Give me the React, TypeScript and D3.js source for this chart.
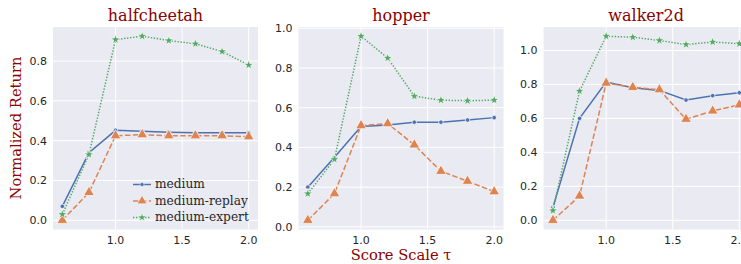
import React, { useEffect, useRef } from "react";
import * as d3 from "d3";

const scales = [0.6, 0.8, 1.0, 1.2, 1.4, 1.6, 1.8, 2.0];
const seriesNames = ["medium", "medium-replay", "medium-expert"];
const envs = ["halfcheetah", "hopper", "walker2d"];

const halfcheetahMedium = [0.07, 0.34, 0.452, 0.447, 0.443, 0.44, 0.44, 0.44];
const halfcheetahReplay = [0.0, 0.14, 0.425, 0.43, 0.425, 0.425, 0.425, 0.42];
const halfcheetahExpert = [0.03, 0.33, 0.908, 0.925, 0.903, 0.887, 0.848, 0.78];

const hopperMedium = [0.2, 0.35, 0.505, 0.513, 0.527, 0.527, 0.538, 0.55];
const hopperReplay = [0.033, 0.167, 0.51, 0.52, 0.413, 0.28, 0.23, 0.177];
const hopperExpert = [0.167, 0.34, 0.96, 0.85, 0.658, 0.638, 0.635, 0.638];

const walkerMedium = [0.076, 0.6, 0.814, 0.78, 0.765, 0.708, 0.734, 0.751];
const walkerReplay = [0.0, 0.143, 0.808, 0.783, 0.769, 0.595, 0.644, 0.68];
const walkerExpert = [0.057, 0.761, 1.084, 1.078, 1.059, 1.035, 1.05, 1.04];

const envData = [
  [halfcheetahMedium, halfcheetahReplay, halfcheetahExpert],
  [hopperMedium, hopperReplay, hopperExpert],
  [walkerMedium, walkerReplay, walkerExpert],
];
const yTicksPerEnv = [
  [0, 0.2, 0.4, 0.6, 0.8],
  [0, 0.2, 0.4, 0.6, 0.8, 1.0],
  [0, 0.2, 0.4, 0.6, 0.8, 1.0],
];
const xTicks = [1.0, 1.5, 2.0];

const colors = ["#4C72B0", "#DD8452", "#55A868"];
const dashes = [null, "5.5,2.4", "1.4,1.6"];
const symbols = [d3.symbolCircle, d3.symbolTriangle, d3.symbolStar];
const symbolSizes = [16, 50, 30];

const App = () => {
  const svgRef = useRef<SVGSVGElement>(null);

  useEffect(() => {
    const width = 741, height = 264;
    const top = 27, bottom = 229.5;
    const panelLefts = [53, 298.5, 543.6];
    const panelW = 205;
    const serif = "'DejaVu Serif', serif";
    const sans = "'DejaVu Sans', sans-serif";
    const titleColor = "#8B0000";

    const svg = d3.select(svgRef.current)
      .attr("width", width)
      .attr("height", height);
    svg.selectAll("*").remove();

    envs.forEach((env, k) => {
      const series = envData[k];
      const all = series.flat();
      const lo = d3.min(all)!, hi = d3.max(all)!;
      const pad = (hi - lo) * 0.05;
      const x0 = panelLefts[k];

      const x = d3.scaleLinear()
        .domain([0.53, 2.07])
        .range([x0, x0 + panelW]);
      const y = d3.scaleLinear()
        .domain([lo - pad, hi + pad])
        .range([bottom, top]);

      const g = svg.append("g");

      g.append("rect")
        .attr("x", x0).attr("y", top)
        .attr("width", panelW).attr("height", bottom - top)
        .attr("fill", "#EAEAF2");

      g.selectAll(".gy")
        .data(yTicksPerEnv[k])
        .enter().append("line")
        .attr("x1", x0).attr("x2", x0 + panelW)
        .attr("y1", d => y(d)).attr("y2", d => y(d))
        .attr("stroke", "white").attr("stroke-width", 1);

      g.selectAll(".gx")
        .data(xTicks)
        .enter().append("line")
        .attr("x1", d => x(d)).attr("x2", d => x(d))
        .attr("y1", top).attr("y2", bottom)
        .attr("stroke", "white").attr("stroke-width", 1);

      g.selectAll(".ty")
        .data(yTicksPerEnv[k])
        .enter().append("text")
        .attr("x", x0 - 6)
        .attr("y", d => y(d))
        .attr("dy", "0.35em")
        .attr("text-anchor", "end")
        .attr("font-family", sans)
        .attr("font-size", 11)
        .attr("fill", "#262626")
        .text(d => d.toFixed(1));

      g.selectAll(".tx")
        .data(xTicks)
        .enter().append("text")
        .attr("x", d => x(d))
        .attr("y", bottom + 14.5)
        .attr("text-anchor", "middle")
        .attr("font-family", sans)
        .attr("font-size", 11)
        .attr("fill", "#262626")
        .text(d => d.toFixed(1));

      const line = d3.line<number>()
        .x((d, i) => x(scales[i]))
        .y(d => y(d));

      series.forEach((vals, s) => {
        g.append("path")
          .datum(vals)
          .attr("d", line)
          .attr("fill", "none")
          .attr("stroke", colors[s])
          .attr("stroke-width", 1.5)
          .attr("stroke-dasharray", dashes[s]);

        g.selectAll(".m" + s)
          .data(vals)
          .enter().append("path")
          .attr("d", d3.symbol(symbols[s], symbolSizes[s]))
          .attr("transform", (d, i) => `translate(${x(scales[i])},${y(d)})`)
          .attr("fill", colors[s])
          .attr("stroke", "white")
          .attr("stroke-width", 0.7);
      });

      g.append("text")
        .attr("x", x0 + panelW / 2)
        .attr("y", 20.5)
        .attr("text-anchor", "middle")
        .attr("font-family", serif)
        .attr("font-size", 16)
        .attr("fill", titleColor)
        .text(env);

      if (k === 0) {
        const legend = g.append("g");
        seriesNames.forEach((name, s) => {
          const ly = 184.5 + s * 16.5;
          legend.append("line")
            .attr("x1", 133).attr("x2", 151)
            .attr("y1", ly).attr("y2", ly)
            .attr("stroke", colors[s])
            .attr("stroke-width", 1.5)
            .attr("stroke-dasharray", dashes[s]);
          legend.append("path")
            .attr("d", d3.symbol(symbols[s], symbolSizes[s] * 0.8))
            .attr("transform", `translate(142,${ly})`)
            .attr("fill", colors[s])
            .attr("stroke", "white")
            .attr("stroke-width", 0.5);
          legend.append("text")
            .attr("x", 155)
            .attr("y", ly)
            .attr("dy", "0.32em")
            .attr("font-family", serif)
            .attr("font-size", 12.2)
            .attr("fill", "#262626")
            .text(name);
        });
      }
    });

    svg.append("text")
      .attr("transform", `translate(21,128) rotate(-90)`)
      .attr("text-anchor", "middle")
      .attr("font-family", serif)
      .attr("font-size", 14.7)
      .attr("fill", titleColor)
      .text("Normalized Return");

    svg.append("text")
      .attr("x", 401)
      .attr("y", 260)
      .attr("text-anchor", "middle")
      .attr("font-family", serif)
      .attr("font-size", 14.7)
      .attr("fill", titleColor)
      .text("Score Scale τ");
  }, []);

  return (
    <svg ref={svgRef} style={{ position: "absolute", left: 0, top: 0 }}></svg>
  );
};

export default App;
